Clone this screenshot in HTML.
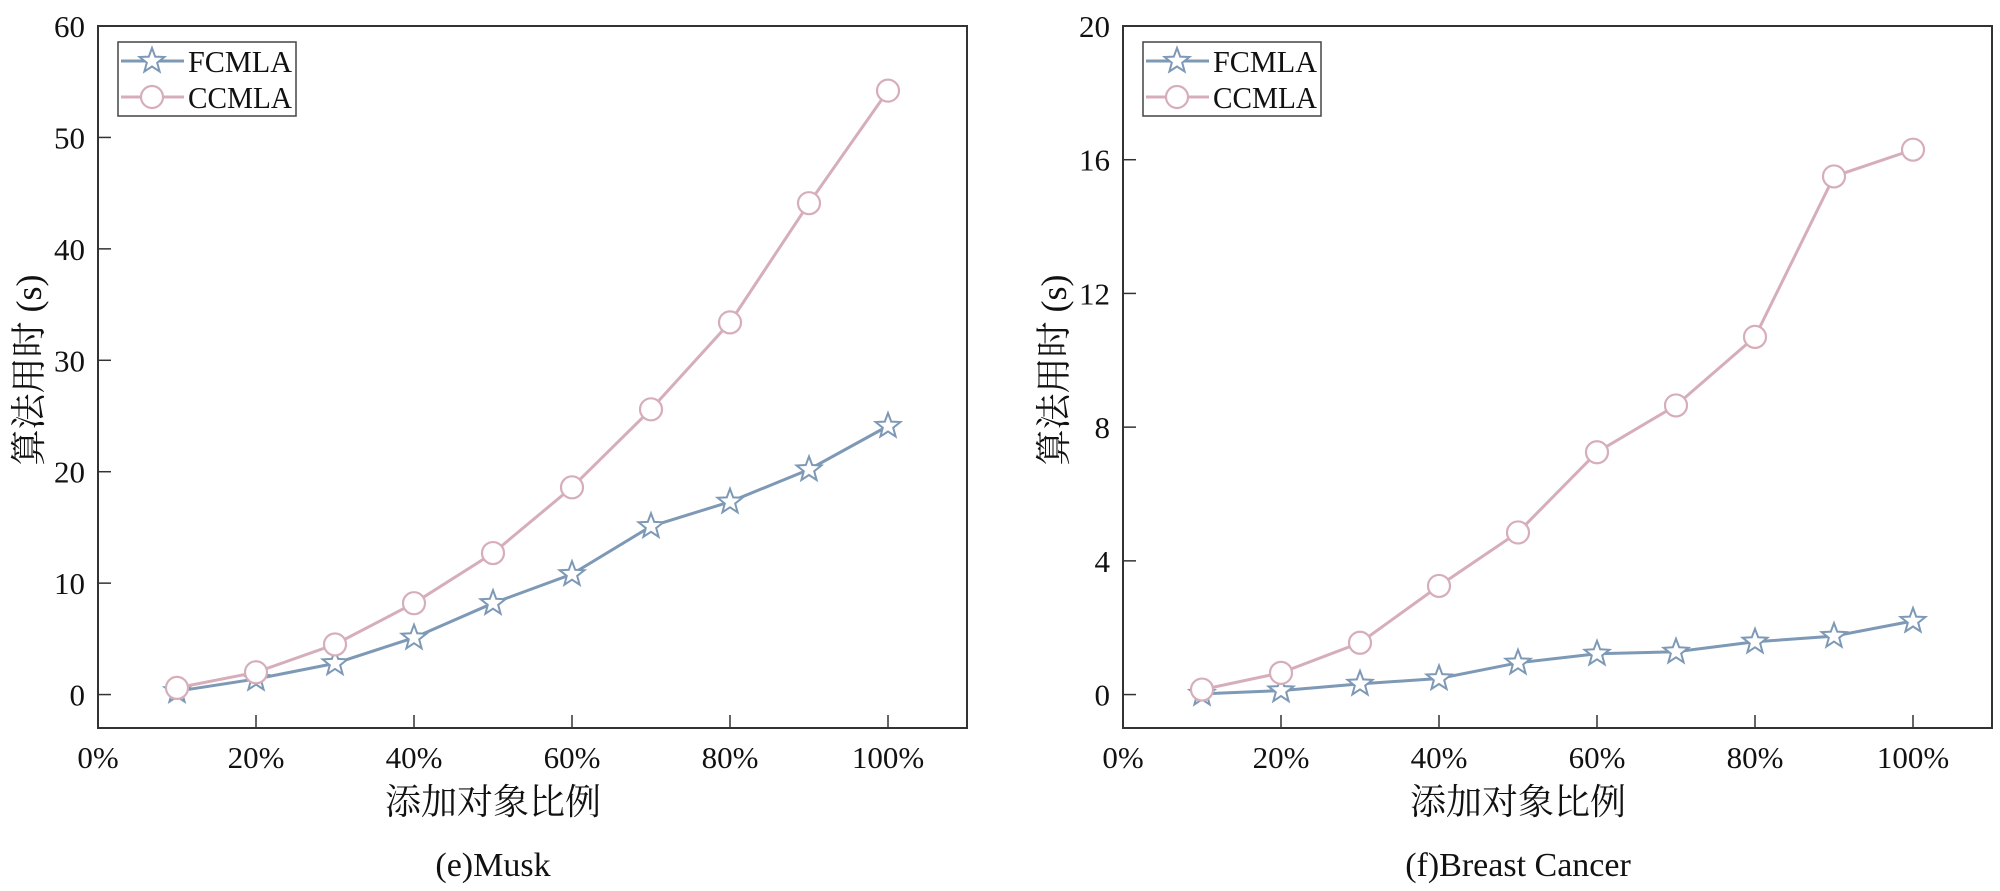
<!DOCTYPE html>
<html><head><meta charset="utf-8"><style>
html,body{margin:0;padding:0;background:#fff;}
svg{display:block;}
text{font-family:"Liberation Serif","Noto Serif CJK SC",serif;fill:#111;}
</style></head><body>
<svg id="chart" width="2000" height="891" xmlns="http://www.w3.org/2000/svg"></svg>
<script>
const xCategories = [10,20,30,40,50,60,70,80,90,100];
const xTickLabels = ["0%","20%","40%","60%","80%","100%"];
const xTickValues = [0,20,40,60,80,100];
const muskFCMLA = [0.3,1.4,2.8,5.1,8.2,10.8,15.1,17.3,20.2,24.1];
const muskCCMLA = [0.6,2.0,4.5,8.2,12.7,18.6,25.6,33.4,44.1,54.2];
const muskYTicks = [0,10,20,30,40,50,60];
const bcFCMLA = [0.02,0.12,0.32,0.48,0.95,1.22,1.28,1.58,1.75,2.2];
const bcCCMLA = [0.15,0.65,1.55,3.25,4.85,7.25,8.65,10.7,15.5,16.3];
const bcYTicks = [0,4,8,12,16,20];
const seriesNames = ["FCMLA","CCMLA"];

const NS="http://www.w3.org/2000/svg";
const svg=document.getElementById('chart');
function mk(tag,attrs,parent){const e=document.createElementNS(NS,tag);for(const k in attrs)e.setAttribute(k,attrs[k]);(parent||svg).appendChild(e);return e;}
const BLUE="#7d99b6", PINK="#d6aeb9";
function starPts(cx,cy,R,r){let p=[];for(let i=0;i<10;i++){const a=-Math.PI/2+i*Math.PI/5;const rr=i%2?r:R;p.push((cx+rr*Math.cos(a)).toFixed(1)+","+(cy+rr*Math.sin(a)).toFixed(1));}return p.join(" ");}

function panel(id,left,yMin,yMax,yTicks,fc,cc,title){
  const top=26,bottom=728,w=869,right=left+w;
  const g=mk('g',{});
  
  
  const xs=v=>left+v/110*w;
  const ys=v=>bottom-(v-yMin)/(yMax-yMin)*(bottom-top);
  xTickValues.forEach((v,i)=>{
    if(v>0){const t=mk('line',{x1:xs(v),x2:xs(v),y1:bottom,y2:bottom-13,stroke:'#333','stroke-width':1.5},g);
    }
    const l=mk('text',{x:xs(v),y:768,'font-size':31,'text-anchor':'middle'},g);l.textContent=xTickLabels[i];
    
  });
  yTicks.forEach(v=>{
    const t=mk('line',{x1:left,x2:left+13,y1:ys(v),y2:ys(v),stroke:'#333','stroke-width':1.5},g);
    
    const l=mk('text',{x:left-13,y:ys(v)+11,'font-size':31,'text-anchor':'end'},g);l.textContent=v;
    
  });
  const fr=mk('rect',{x:left,y:top,width:w,height:bottom-top,fill:'none',stroke:'#333','stroke-width':2},g);
  
  [[fc,BLUE,'star','fcmla'],[cc,PINK,'circle','ccmla']].forEach(([d,col,m,nm])=>{
    const pts=d.map((v,i)=>xs(xCategories[i]).toFixed(1)+","+ys(v).toFixed(1)).join(" ");
    const pl=mk('polyline',{points:pts,fill:'none',stroke:col,'stroke-width':3},g);
    
    d.forEach((v,i)=>{
      const cx=xs(xCategories[i]),cy=ys(v);let e;
      if(m==='circle')e=mk('circle',{cx:cx,cy:cy,r:11,fill:'#fff',stroke:col,'stroke-width':2.2},g);
      else e=mk('polygon',{points:starPts(cx,cy,13,5.5),fill:'#fff',stroke:col,'stroke-width':2},g);
      
    });
  });
  const lx=left+20,ly=42;
  const lg=mk('g',{},g);
  
  mk('rect',{x:lx,y:ly,width:178,height:74,fill:'#fff',stroke:'#444','stroke-width':1.5},lg);
  [[BLUE,'star',0],[PINK,'circle',1]].forEach(([col,m,i])=>{
    const yy=ly+19+i*36;
    const e=mk('g',{},lg);
    
    mk('line',{x1:lx+3,x2:lx+66,y1:yy,y2:yy,stroke:col,'stroke-width':3},e);
    if(m==='circle')mk('circle',{cx:lx+34,cy:yy,r:11,fill:'#fff',stroke:col,'stroke-width':2.2},e);
    else mk('polygon',{points:starPts(lx+34,yy,13,5.5),fill:'#fff',stroke:col,'stroke-width':2},e);
    const t=mk('text',{x:lx+70,y:yy+11,'font-size':31,textLength:104,lengthAdjust:'spacingAndGlyphs'},e);t.textContent=seriesNames[i];
  });
  const xt=mk('text',{x:left+395,y:814,'font-size':36,'text-anchor':'middle'},g);xt.textContent='添加对象比例';
  
  const yx=left-57,yy=370;
  const yt=mk('text',{x:yx,y:yy,'font-size':36,'text-anchor':'middle',transform:`rotate(-90 ${yx} ${yy})`},g);yt.textContent='算法用时 (s)';
  
  const st=mk('text',{x:left+395,y:876,'font-size':34,'text-anchor':'middle'},g);st.textContent=title;
  
}
panel('musk',98,-3,60,muskYTicks,muskFCMLA,muskCCMLA,'(e)Musk');
panel('breast-cancer',1123,-1,20,bcYTicks,bcFCMLA,bcCCMLA,'(f)Breast Cancer');
</script>
</body></html>
